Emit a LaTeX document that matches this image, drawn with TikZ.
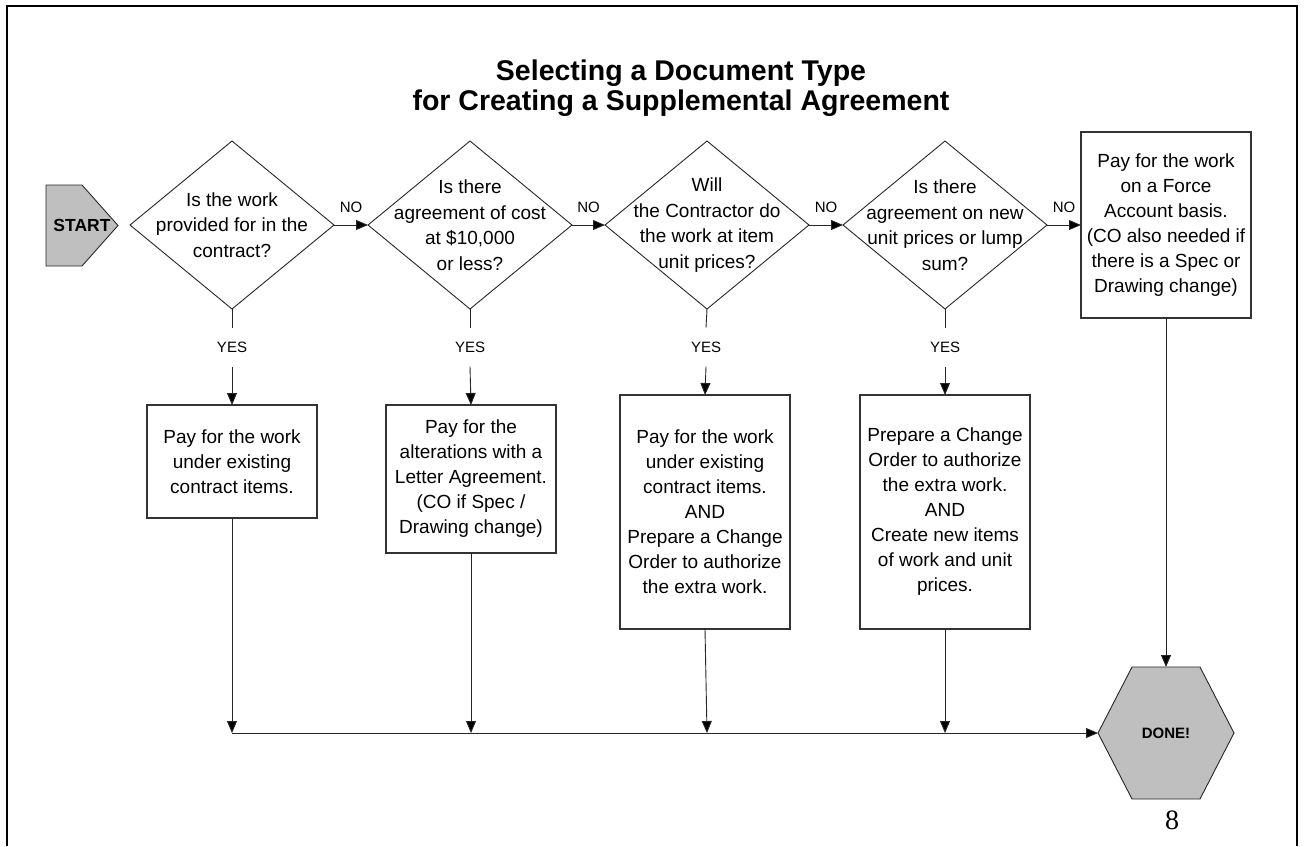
\documentclass[tikz,border=0pt]{standalone}
\usepackage{fontspec}
\setmainfont{Liberation Sans}
\newfontfamily\pagenumfont{Liberation Serif}
\usetikzlibrary{shapes.geometric,arrows.meta,calc,backgrounds}

\begin{document}
\begin{tikzpicture}[x=1pt,y=-1pt,
  every node/.style={outer sep=0pt},
  conn/.style={draw=black!85, line width=0.9pt},
  arr/.style={conn, -{Triangle[length=12pt,width=10pt,fill=black]}},
  question/.style={diamond, draw=black!85, line width=0.9pt, inner sep=0pt,
    minimum width=204pt, minimum height=168pt},
  qtext/.style={align=center, inner sep=0pt, font=\fontsize{19}{25.5}\selectfont},
  action/.style={rectangle, draw=black!80, line width=1.1pt, minimum width=170pt,
    align=center, inner sep=0pt, font=\fontsize{19}{25}\selectfont},
  answer/.style={inner sep=0pt, font=\fontsize{15}{18}\selectfont},
  yeslbl/.style={answer, minimum height=39pt},
  terminal/.style={draw=black!85, line width=0.9pt, fill=black!25},
  holder/.style={inner sep=0pt, font=\bfseries\fontsize{15}{18}\selectfont},
]
\useasboundingbox (0,0) rectangle (1305,846);

% page frame, open at the bottom
\draw[line width=2.2pt] (7,846) -- (7,6) -- (1297,6) -- (1297,846);

% title
\node[align=center, font=\bfseries\fontsize{28.5}{29.5}\selectfont] (title) at (681,88)
  {Selecting a Document Type\\for Creating a Supplemental Agreement};

% start / end terminals
\node[holder, font=\bfseries\fontsize{17.5}{20}\selectfont,
  minimum width=72pt, minimum height=81pt] (start) at (82,225.5) {START};
\node[holder, minimum width=136pt, minimum height=132pt] (done) at (1166,733) {DONE!};

% decisions
\node[question, label={[qtext]center:{Is the work\\provided for in the\\contract?}}]
  (d1) at (232,225) {};
\node[question, label={[qtext]center:{Is there\\agreement of cost\\at \$10,000\\or less?}}]
  (d2) at (470,225) {};
\node[question, label={[qtext]center:{Will\\the Contractor do\\the work at item\\unit prices?}}]
  (d3) at (707,225) {};
\node[question, label={[qtext]center:{Is there\\agreement on new\\unit prices or lump\\sum?}}]
  (d4) at (945,225) {};

% actions
\node[action, minimum height=113pt] (b1) at (232,461.5)
  {Pay for the work\\under existing\\contract items.};
\node[action, minimum height=148pt] (b2) at (471,479)
  {Pay for the\\alterations with a\\Letter Agreement.\\(CO if Spec /\\Drawing change)};
\node[action, minimum height=234pt] (b3) at (705,512)
  {Pay for the work\\under existing\\contract items.\\AND\\Prepare a Change\\Order to authorize\\the extra work.};
\node[action, minimum height=234pt] (b4) at (945,512)
  {Prepare a Change\\Order to authorize\\the extra work.\\AND\\Create new items\\of work and unit\\prices.};
\node[action, minimum height=186pt] (force) at (1166,225)
  {Pay for the work\\on a Force\\Account basis.\\(CO also needed if\\there is a Spec or\\Drawing change)};

% terminal outlines behind their labels
\begin{scope}[on background layer]
  \filldraw[terminal] (start.north west) -- (start.north) -- (start.east)
    -- (start.south) -- (start.south west) -- cycle;
  \filldraw[terminal] (done.west) -- ($(done.north west)+(34,0)$)
    -- ($(done.north east)+(-34,0)$) -- (done.east)
    -- ($(done.south east)+(-34,0)$) -- ($(done.south west)+(34,0)$) -- cycle;
\end{scope}

% NO branches
\draw[arr] (d1.east) -- node[answer, above=12.5pt] {NO} (d2.west);
\draw[arr] (d2.east) -- node[answer, above=12.5pt] {NO} (d3.west);
\draw[arr] (d3.east) -- node[answer, above=12.5pt] {NO} (d4.west);
\draw[arr] (d4.east) -- node[answer, above=12.5pt] {NO} (force.west);

% YES branches
\node[yeslbl] (y1) at (232,347) {YES};
\node[yeslbl] (y2) at (470,347) {YES};
\node[yeslbl] (y3) at (706,347) {YES};
\node[yeslbl] (y4) at (945,347) {YES};
\draw[conn] (d1.south) -- (y1.north);
\draw[conn] (d2.south) -- (y2.north);
\draw[conn] (d3.south) -- (y3.north);
\draw[conn] (d4.south) -- (y4.north);
\draw[arr] (y1.south) -- (b1.north);
\draw[arr] (y2.south) -- (b2.north);
\draw[arr] (y3.south) -- (b3.north);
\draw[arr] (y4.south) -- (b4.north);

% collecting line into DONE!
\coordinate (j1) at (232,733);
\coordinate (j2) at (471,733);
\coordinate (j3) at (707,733);
\coordinate (j4) at (945,733);
\draw[arr] (b1.south) -- (j1);
\draw[arr] (b2.south) -- (j2);
\draw[arr] (b3.south) -- (j3);
\draw[arr] (b4.south) -- (j4);
\draw[arr] (j1) -- (done.west);
\draw[arr] (force.south) -- (done.north);

% page number
\node[font=\pagenumfont\fontsize{28}{30}\selectfont] (pagenum) at (1172,820) {8};
\end{tikzpicture}
\end{document}
